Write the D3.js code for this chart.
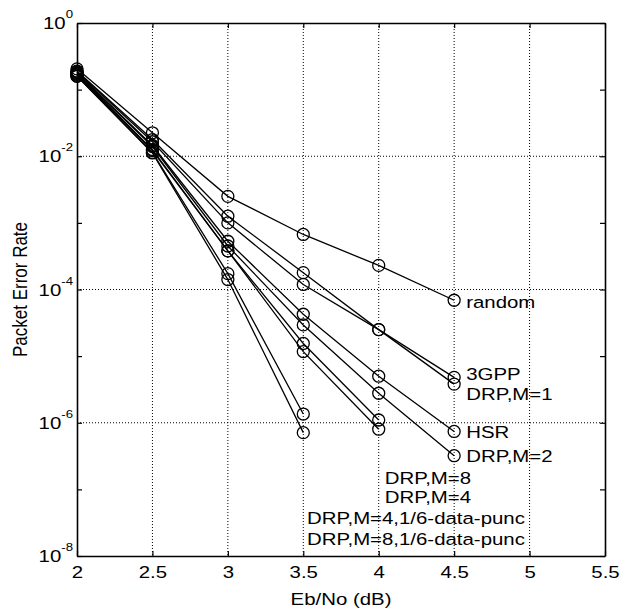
<!DOCTYPE html>
<html>
<head>
<meta charset="utf-8">
<script src="https://cdn.jsdelivr.net/npm/d3@7"></script>
<style>
body { margin: 0; background: #fff; }
text { font-family: "Liberation Sans", Arial, sans-serif; }
</style>
</head>
<body>
<script>
// Eb/No points (dB)
var ebno = [2, 2.5, 3, 3.5, 4, 4.5];

// packet error rate per scheme
var perRandom = [0.205, 0.0225, 2.5e-3, 6.7e-4, 2.3e-4, 6.9e-5];
var per3gpp   = [0.185, 0.0165, 1.0e-3, 1.19e-4, 2.5e-5, 4.8e-6];
var perM1     = [0.19, 0.0178, 1.26e-3, 1.79e-4, 2.5e-5, 3.8e-6];
var perHsr    = [0.18, 0.0145, 5.3e-4, 4.25e-5, 5.0e-6, 7.4e-7];
var perM2     = [0.175, 0.014, 4.5e-4, 2.94e-5, 2.77e-6, 3.2e-7];
var perM8     = [0.17, 0.0126, 3.8e-4, 1.55e-5, 1.1e-6];
var perM4     = [0.165, 0.0122, 3.8e-4, 1.17e-5, 8.0e-7];
var perM4p    = [0.16, 0.0114, 1.73e-4, 1.35e-6];
var perM8p    = [0.158, 0.0112, 1.41e-4, 7.1e-7];

var series = [perRandom, per3gpp, perM1, perHsr, perM2, perM8, perM4, perM4p, perM8p];

// text labels placed in data coordinates (like MATLAB text())
var labelText = ["random", "3GPP", "DRP,M=1", "HSR", "DRP,M=2", "DRP,M=8", "DRP,M=4",
	"DRP,M=4,1/6-data-punc", "DRP,M=8,1/6-data-punc"];
var labelX = [4.58, 4.58, 4.58, 4.58, 4.58, 4.04, 4.04, 3.525, 3.525];
var labelY = [6.6e-5, 5.4e-6, 2.7e-6, 7.2e-7, 3.2e-7, 1.47e-7, 7.8e-8, 3.7e-8, 1.8e-8];

var xTicks = [2, 2.5, 3, 3.5, 4, 4.5, 5, 5.5];
var yTicks = [1, 1e-1, 1e-2, 1e-3, 1e-4, 1e-5, 1e-6, 1e-7, 1e-8];
var yLabelExp = [0, -2, -4, -6, -8];

var w = 620, h = 610;
var pLeft = 77, pRight = 605, pTop = 23, pBottom = 556;
var fs = 17;       // font size
var stretch = 1.2; // the original figure text is drawn wide

var svg = d3.select("body").append("svg")
	.attr("width", w)
	.attr("height", h);

var x = d3.scaleLinear().domain([2, 5.5]).range([pLeft, pRight]);
var y = d3.scaleLog().domain([1e-8, 1]).range([pBottom, pTop]);

function wide(px, py) {
	return "translate(" + px + "," + py + ") scale(" + stretch + ",1)";
}

// dotted grid
var grid = svg.append("g").attr("stroke", "#000").attr("stroke-width", 1)
	.attr("stroke-dasharray", "1,2");
grid.selectAll(".gx")
	.data(xTicks.slice(1, -1))
	.enter().append("line")
	.attr("x1", function(d) { return x(d); })
	.attr("x2", function(d) { return x(d); })
	.attr("y1", pTop).attr("y2", pBottom);
grid.selectAll(".gy")
	.data(yLabelExp.slice(1, -1))
	.enter().append("line")
	.attr("x1", pLeft).attr("x2", pRight)
	.attr("y1", function(d) { return y(Math.pow(10, d)); })
	.attr("y2", function(d) { return y(Math.pow(10, d)); });

// axes with inward ticks on all four sides
var xAxis = svg.append("g")
	.attr("transform", "translate(0," + pBottom + ")")
	.call(d3.axisBottom(x).tickValues(xTicks).tickSizeInner(-5).tickSizeOuter(0).tickPadding(10)
		.tickFormat(function(d) { return d; }));
svg.append("g")
	.attr("transform", "translate(0," + pTop + ")")
	.call(d3.axisTop(x).tickValues(xTicks).tickSizeInner(-5).tickSizeOuter(0).tickFormat(""));
svg.append("g")
	.attr("transform", "translate(" + pLeft + ",0)")
	.call(d3.axisLeft(y).tickValues(yTicks).tickSizeInner(-5).tickSizeOuter(0).tickFormat(""));
svg.append("g")
	.attr("transform", "translate(" + pRight + ",0)")
	.call(d3.axisRight(y).tickValues(yTicks).tickSizeInner(-5).tickSizeOuter(0).tickFormat(""));

svg.selectAll(".domain").attr("stroke", "#000").attr("stroke-width", 1.6);
svg.selectAll(".tick line").attr("stroke", "#000").attr("stroke-width", 1.2);

xAxis.selectAll("text")
	.attr("font-size", fs + "px")
	.attr("font-family", "Liberation Sans, Arial, sans-serif")
	.attr("fill", "#000")
	.attr("transform", "scale(" + stretch + ",1)");

// y tick labels as 10^n with superscript
var yt = svg.append("g").selectAll("text")
	.data(yLabelExp)
	.enter().append("text")
	.attr("transform", function(d) { return wide(pLeft - 4, y(Math.pow(10, d)) + 6); })
	.attr("text-anchor", "end")
	.attr("font-size", fs + "px");
yt.append("tspan").text("10");
yt.append("tspan")
	.attr("dy", -11)
	.attr("font-size", "11px")
	.text(function(d) { return d; });

// series lines and circle markers
var line = d3.line()
	.x(function(d, i) { return x(ebno[i]); })
	.y(function(d) { return y(d); });

svg.selectAll(".series")
	.data(series)
	.enter().append("path")
	.attr("d", line)
	.attr("fill", "none")
	.attr("stroke", "#000")
	.attr("stroke-width", 1.3);

series.forEach(function(s) {
	svg.append("g").selectAll("circle")
		.data(s)
		.enter().append("circle")
		.attr("cx", function(d, i) { return x(ebno[i]); })
		.attr("cy", function(d) { return y(d); })
		.attr("r", 6)
		.attr("fill", "none")
		.attr("stroke", "#000")
		.attr("stroke-width", 1.3);
});

// curve labels
svg.append("g").selectAll("text")
	.data(labelText)
	.enter().append("text")
	.attr("transform", function(d, i) { return wide(x(labelX[i]), y(labelY[i])); })
	.attr("dy", "0.36em")
	.attr("font-size", fs + "px")
	.text(function(d) { return d; });

// axis titles
svg.append("text")
	.attr("transform", wide((pLeft + pRight) / 2, 605))
	.attr("text-anchor", "middle")
	.attr("font-size", fs + "px")
	.text("Eb/No (dB)");
svg.append("text")
	.attr("transform", wide(27, (pTop + pBottom) / 2) + " rotate(-90)")
	.attr("text-anchor", "middle")
	.attr("font-size", fs + "px")
	.text("Packet Error Rate");
</script>
</body>
</html>
